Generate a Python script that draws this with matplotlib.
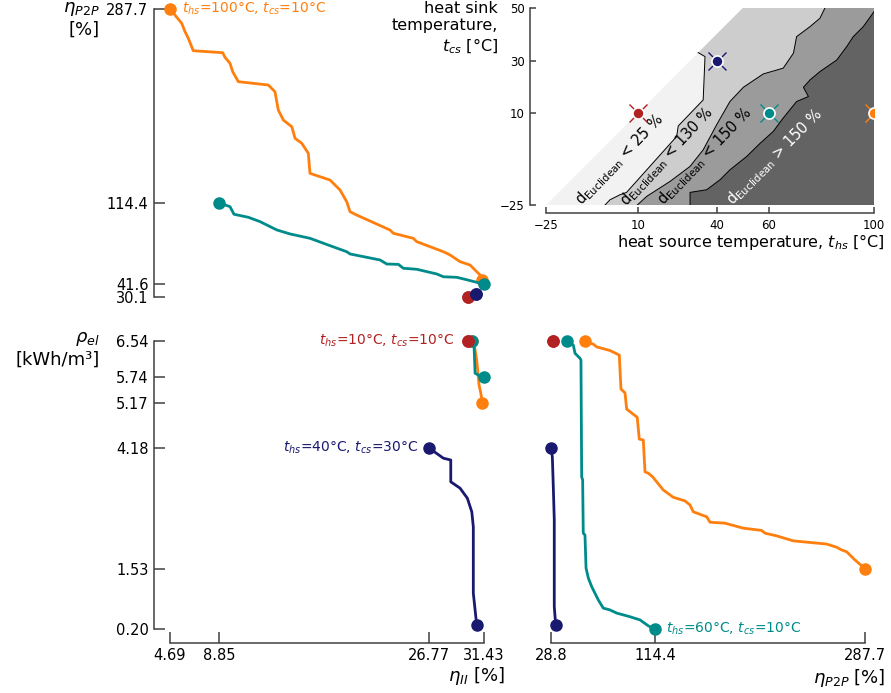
import matplotlib.pyplot as plt
import numpy as np

orange = '#ff7f0e'
teal = '#008b8b'
navy = '#191970'
red = '#b22222'

# top-left panel: eta_II (x) vs eta_P2P (y)
tl_orange_x = [4.69, 5.69, 5.97, 6.25, 6.67, 9.18, 9.37, 9.80, 10.03, 10.51, 13.06, 13.63, 13.91, 14.34,
               15.06, 15.34, 15.91, 16.47, 16.61, 18.32, 19.17, 19.74, 20.02, 20.59, 23.43, 23.71, 25.41,
               25.70, 27.97, 28.54, 29.39, 30.24, 31.09, 31.29]
tl_orange_y = [287.7, 274.9, 267.4, 261.5, 250.4, 248.6, 244.5, 239.1, 231.6, 222.7, 219.7, 213.7, 197.4,
               188.4, 182.4, 172.0, 167.6, 158.6, 140.7, 134.7, 125.8, 115.3, 106.4, 103.4, 90.0, 87.1,
               82.6, 79.6, 70.6, 67.7, 61.7, 58.7, 49.8, 45.3]
tl_teal_x = [8.85, 9.80, 10.14, 11.36, 12.36, 13.78, 14.91, 16.61, 18.32, 19.74, 20.02, 22.58, 23.15,
             24.14, 24.56, 25.70, 27.41, 27.97, 29.11, 29.82, 31.43]
tl_teal_y = [114.4, 110.9, 104.1, 101.4, 97.5, 90.1, 86.5, 82.6, 76.0, 70.6, 68.6, 63.2, 59.6, 59.3,
             55.8, 54.9, 50.7, 48.2, 47.7, 45.9, 41.6]
tl_navy_x = [30.75]
tl_navy_y = [32.8]
tl_red_x = [30.10]
tl_red_y = [30.1]

# bottom-left panel: eta_II (x) vs rho_el (y)
bl_orange_x = [30.45, 30.60, 30.81, 31.01, 31.16, 31.29]
bl_orange_y = [6.54, 6.45, 6.12, 5.57, 5.39, 5.17]
bl_teal_x = [30.39, 30.58, 30.67, 30.95, 31.43]
bl_teal_y = [6.54, 6.45, 5.83, 5.79, 5.74]
bl_navy_x = [26.77, 27.97, 28.60, 28.60, 29.39, 30.01, 30.39, 30.52, 30.52, 30.81]
bl_navy_y = [4.18, 3.96, 3.92, 3.44, 3.30, 3.08, 2.78, 2.45, 0.99, 0.28]
bl_red_x = [30.10]
bl_red_y = [6.54]

# bottom-right panel: eta_P2P (x) vs rho_el (y)
br_orange_x = [56.8, 63.7, 66.5, 77.4, 85.1, 86.5, 89.8, 91.2, 99.9, 101.6, 104.9, 106.3, 109.0, 112.6,
               121.4, 129.6, 139.3, 143.4, 146.1, 157.2, 159.9, 172.2, 187.3, 202.5, 205.2, 214.9,
               228.6, 256.1, 264.3, 268.5, 272.6, 279.4, 287.7]
br_orange_y = [6.54, 6.47, 6.41, 6.33, 6.23, 5.48, 5.40, 5.04, 4.86, 4.38, 4.36, 3.66, 3.63, 3.55,
               3.26, 3.10, 3.02, 2.93, 2.78, 2.67, 2.55, 2.53, 2.42, 2.37, 2.31, 2.25, 2.14, 2.07,
               2.00, 1.94, 1.90, 1.72, 1.53]
br_teal_x = [42.2, 47.2, 48.6, 52.7, 53.5, 54.1, 54.9, 55.4, 56.8, 57.7, 59.6, 62.4, 67.8, 71.9, 77.4,
             83.0, 93.9, 102.2, 109.0, 114.4]
br_teal_y = [6.54, 6.45, 6.27, 6.16, 6.12, 3.55, 3.48, 2.31, 2.27, 1.54, 1.32, 1.13, 0.84, 0.66, 0.62,
             0.55, 0.47, 0.40, 0.27, 0.20]
br_navy_x = [28.8, 29.9, 30.7, 31.5, 31.5, 32.7]
br_navy_y = [4.18, 3.99, 3.33, 2.60, 0.69, 0.28]
br_red_x = [30.1]
br_red_y = [6.54]

# ticks
eta2_ticks = [4.69, 8.85, 26.77, 31.43]
eta2_labels = ['4.69', '8.85', '26.77', '31.43']
p2p_ticks = [30.1, 41.6, 114.4, 287.7]
p2p_labels = ['30.1', '41.6', '114.4', '287.7']
p2p_xticks = [28.8, 114.4, 287.7]
p2p_xlabels = ['28.8', '114.4', '287.7']
rho_ticks = [0.20, 1.53, 4.18, 5.17, 5.74, 6.54]
rho_labels = ['0.20', '1.53', '4.18', '5.17', '5.74', '6.54']

# inset: scenarios and contour boundaries (t_hs, t_cs)
sc_hs = [10, 40, 60, 100]
sc_cs = [10, 30, 10, 10]
sc_col = [red, navy, teal, orange]
bnd1_hs = [-2.5, -0.6, 3.2, 5.7, 24.8, 25.4, 34.9, 35.6, 33.0]
bnd1_cs = [-25, -23.0, -21.1, -20.2, 1.1, 5.1, 15.0, 31.5, 33.0]
bnd2_hs = [9.8, 13.4, 22.3, 29.9, 34.9, 40.0, 45.1, 50.2, 57.8, 65.4, 69.3, 70.5, 75.6, 79.4, 81.3]
bnd2_cs = [-25, -21.7, -16.0, -10.3, -4.0, 5.5, 14.4, 19.8, 24.9, 27.1, 32.8, 39.1, 42.9, 46.1, 50]
bnd3_hs = [29.9, 29.9, 36.2, 41.3, 45.1, 51.5, 56.6, 61.6, 65.4, 70.5, 75.0, 73.1, 75.6, 79.4, 85.8,
           89.6, 92.1, 95.9, 100]
bnd3_cs = [-25, -20.2, -19.2, -15.4, -11.6, -6.5, -1.5, 3.0, 8.1, 14.4, 16.3, 19.8, 22.6, 25.8, 30.2,
           35.3, 39.1, 42.9, 48.6]
inset_xticks = [-25, 10, 40, 60, 100]
inset_yticks = [-25, 10, 30, 50]

W, H = 891, 693
fig = plt.figure(figsize=(W / 100, H / 100), dpi=100)


def rect(x0, y0, x1, y1):
    # pixel box (from top-left) -> figure fraction
    return [x0 / W, 1 - y1 / H, (x1 - x0) / W, (y1 - y0) / H]


def style(ax, left, bottom, loff=11.5, boff=10, tlen=8, size=10.5):
    for s in ['top', 'right']:
        ax.spines[s].set_visible(False)
    ax.spines['left'].set_visible(left)
    ax.spines['bottom'].set_visible(bottom)
    for s in ['left', 'bottom']:
        ax.spines[s].set_color('0.25')
        ax.spines[s].set_linewidth(1.1)
    ax.spines['left'].set_position(('outward', loff))
    ax.spines['bottom'].set_position(('outward', boff))
    ax.tick_params(direction='in', length=tlen, width=1.1, color='0.25', labelsize=size, pad=4)
    if not left:
        ax.tick_params(axis='y', left=False, labelleft=False)
    if not bottom:
        ax.tick_params(axis='x', bottom=False, labelbottom=False)


def curve(ax, xs, ys, color):
    ax.plot(xs, ys, color=color, lw=2, clip_on=False, zorder=3)
    ax.plot([xs[0], xs[-1]], [ys[0], ys[-1]], 'o', color=color, ms=8, clip_on=False, zorder=3)


ax1 = fig.add_axes(rect(170, 9, 484, 297))
ax2 = fig.add_axes(rect(170, 341, 484, 629))
ax3 = fig.add_axes(rect(551, 341, 865, 629))
ax4 = fig.add_axes(rect(546, 8, 874, 205))

for ax, data in [(ax1, [(tl_orange_x, tl_orange_y, orange), (tl_teal_x, tl_teal_y, teal),
                        (tl_red_x, tl_red_y, red), (tl_navy_x, tl_navy_y, navy)]),
                 (ax2, [(bl_orange_x, bl_orange_y, orange), (bl_teal_x, bl_teal_y, teal),
                        (bl_red_x, bl_red_y, red), (bl_navy_x, bl_navy_y, navy)]),
                 (ax3, [(br_orange_x, br_orange_y, orange), (br_teal_x, br_teal_y, teal),
                        (br_red_x, br_red_y, red), (br_navy_x, br_navy_y, navy)])]:
    for xs, ys, c in data:
        curve(ax, xs, ys, c)

ax1.set_xlim(4.69, 31.43)
ax1.set_ylim(30.1, 287.7)
style(ax1, True, False)
ax1.set_yticks(p2p_ticks, p2p_labels)
ax1.spines['left'].set_bounds(30.1, 287.7)

ax2.set_xlim(4.69, 31.43)
ax2.set_ylim(0.20, 6.54)
style(ax2, True, True)
ax2.set_xticks(eta2_ticks, eta2_labels)
ax2.set_yticks(rho_ticks, rho_labels)
ax2.spines['left'].set_bounds(0.20, 6.54)
ax2.spines['bottom'].set_bounds(4.69, 31.43)

ax3.set_xlim(28.8, 287.7)
ax3.set_ylim(0.20, 6.54)
style(ax3, False, True)
ax3.set_xticks(p2p_xticks, p2p_xlabels)
ax3.spines['bottom'].set_bounds(28.8, 287.7)

# scenario labels
ax1.annotate(r'$t_{hs}$=100°C, $t_{cs}$=10°C', (tl_orange_x[0], tl_orange_y[0]), xytext=(9, 0),
             textcoords='offset points', color=orange, fontsize=10, va='center', ha='left')
ax2.annotate(r'$t_{hs}$=10°C, $t_{cs}$=10°C', (bl_red_x[0], bl_red_y[0]), xytext=(-10, 0),
             textcoords='offset points', color=red, fontsize=10, va='center', ha='right')
ax2.annotate(r'$t_{hs}$=40°C, $t_{cs}$=30°C', (bl_navy_x[0], bl_navy_y[0]), xytext=(-8, 0),
             textcoords='offset points', color=navy, fontsize=10, va='center', ha='right')
ax3.annotate(r'$t_{hs}$=60°C, $t_{cs}$=10°C', (br_teal_x[-1], br_teal_y[-1]), xytext=(8, 0),
             textcoords='offset points', color=teal, fontsize=10, va='center', ha='left')

# axis labels
fig.text(100 / W, 1 - 0 / H, r'$\eta_{P2P}$' + '\n[%]', ha='right', va='top', fontsize=13,
         multialignment='right')
fig.text(100 / W, 1 - 330 / H, r'$\rho_{el}$' + '\n[kWh/m³]', ha='right', va='top', fontsize=13,
         multialignment='right')
fig.text(505 / W, 1 - 676 / H, r'$\eta_{II}$ [%]', ha='right', va='center', fontsize=13)
fig.text(885 / W, 1 - 678 / H, r'$\eta_{P2P}$ [%]', ha='right', va='center', fontsize=13)

# inset with regions of d_Euclidean
ax4.fill([-25, 50, 100, 100], [-25, 50, 50, -25], color='#f2f2f2', lw=0)
ax4.fill(bnd1_hs + [50, 100, 100], bnd1_cs + [50, 50, -25], color='#cdcdcd', lw=0)
ax4.fill(bnd2_hs + [100, 100], bnd2_cs + [50, -25], color='#9b9b9b', lw=0)
ax4.fill(bnd3_hs + [100], bnd3_cs + [-25], color='#636363', lw=0)
for bx, by in [(bnd1_hs, bnd1_cs), (bnd2_hs, bnd2_cs), (bnd3_hs, bnd3_cs)]:
    ax4.plot(bx, by, color='k', lw=0.7)

ax4.text(3, -7.5, r'd$_{\mathrm{Euclidean}}$ < 25 %', rotation=46, ha='center', va='center', fontsize=10.5)
ax4.text(21, -6.5, r'd$_{\mathrm{Euclidean}}$ < 130 %', rotation=47, ha='center', va='center', fontsize=10.5)
ax4.text(35.6, -6.3, r'd$_{\mathrm{Euclidean}}$ < 150 %', rotation=46, ha='center', va='center', fontsize=10.5)
ax4.text(62.3, -6.5, r'd$_{\mathrm{Euclidean}}$ > 150 %', rotation=45, ha='center', va='center', fontsize=10.5,
         color='white')

for h, c, col in zip(sc_hs, sc_cs, sc_col):
    ax4.plot(h, c, 'x', color=col, ms=13, mew=1, zorder=4)
    ax4.plot(h, c, 'o', color=col, ms=8, mec='white', mew=1.2, zorder=5)

ax4.set_xlim(-25, 100)
ax4.set_ylim(-25, 50)
style(ax4, True, True, loff=11.5, boff=6, tlen=4.5, size=8.5)
ax4.set_xticks(inset_xticks)
ax4.set_yticks(inset_yticks)
ax4.spines['left'].set_bounds(-25, 50)
ax4.spines['bottom'].set_bounds(-25, 100)
fig.text(885 / W, 1 - 242 / H, r'heat source temperature, $t_{hs}$ [°C]', ha='right', va='center', fontsize=11.5)
fig.text(498 / W, 1 - 1 / H, 'heat sink\ntemperature,\n' + r'$t_{cs}$ [°C]', ha='right', va='top',
         fontsize=11.5, multialignment='right')

fig.savefig('out.png', dpi=100)
